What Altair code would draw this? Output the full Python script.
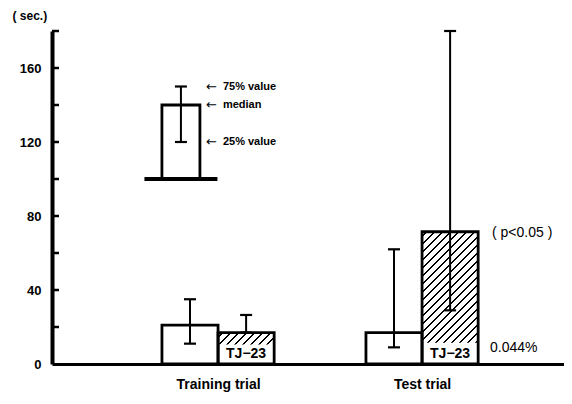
import altair as alt
import pandas as pd

# ---------------- data ----------------
groups = ["Training trial", "Test trial"]
group_pos = [1, 2]
series = ["Control", "TJ-23"]

control_median = [21, 17]
control_q75 = [35, 62]
control_q25 = [11, 9]

tj_median = [17, 71.5]
tj_q75 = [26.5, 180]
tj_q25 = [17, 29]

legend_median = 140
legend_q75 = 150
legend_q25 = 120
legend_base = 100
legend_labels = ["75% value", "median", "25% value"]

y_label_values = [0, 40, 80, 120, 160]
y_tick_values = [20, 40, 60, 80, 100, 120, 140, 160, 180]

tj_label = "TJ\u221223"
p_text = "( p<0.05 )"
pct_text = "0.044%"
y_unit = "( sec.)"
arrow = "\u2190"

# ---------------- layout / style constants ----------------
FONT = "Liberation Sans"
W_PLOT, H_PLOT = 512, 333
PX_X = 204.0
XMIN = 0.186
XMAX = XMIN + W_PLOT / PX_X
YMAX = 180
PX_Y = H_PLOT / YMAX
BAR_W = 0.275
CAP = 6 / PX_X
TICK_LEN = 7 / PX_X
LEGEND_X = 0.818
LEGEND_HALF = 19 / PX_X
LEGEND_BASE_HALF = 36.5 / PX_X
ARROW_DX = 25 / PX_X
ANNOT_DX = 42 / PX_X
LABEL_TOP = [10.5, 11.5]
TJ_TEXT_Y = 5.5
P_X, P_Y = 2.343, 70.8
PCT_X, PCT_Y = 2.333, 8.6

xs = alt.Scale(domain=[XMIN, XMAX], nice=False, zero=False)
ys = alt.Scale(domain=[0, YMAX], nice=False)

label_expr = "datum.value == {} ? '{}' : '{}'".format(group_pos[0], groups[0], groups[1])
x_axis = alt.Axis(values=group_pos, labelExpr=label_expr, tickSize=0, domainWidth=3,
                  domainColor="black", labelFont=FONT, labelFontSize=14,
                  labelFontWeight="bold", labelColor="black", labelPadding=13,
                  grid=False, title=None)
y_axis = alt.Axis(values=y_label_values, tickSize=0, domainWidth=4, domainColor="black",
                  labelFont=FONT, labelFontSize=13, labelFontWeight="bold",
                  labelColor="black", labelPadding=11, grid=False,
                  title=y_unit, titleAngle=0, titleX=-40, titleY=-16,
                  titleAlign="left", titleBaseline="middle", titleFont=FONT,
                  titleFontSize=12, titleFontWeight="bold", titleColor="black")


def X():
    return alt.X("x:Q", scale=xs, axis=x_axis)


def Y():
    return alt.Y("y:Q", scale=ys, axis=y_axis)


def hatch_fill(w_px, h_px, period=8.0, thick=1.8):
    L = w_px + h_px
    t = L / (w_px ** 2 + h_px ** 2)
    stops = [{"offset": 0, "color": "white"}]
    c = period / 2
    while c < L:
        a = c / L
        b = min((c + thick) / L, 1)
        stops += [{"offset": a, "color": "white"}, {"offset": a, "color": "black"},
                  {"offset": b, "color": "black"}, {"offset": b, "color": "white"}]
        c += period
    stops.append({"offset": 1, "color": "white"})
    return {"gradient": "linear", "x1": 0, "y1": 0, "x2": w_px * t, "y2": h_px * t,
            "stops": stops}


layers = []

# hatched parts of the TJ-23 bars
for i in range(len(groups)):
    d = pd.DataFrame({"x": [group_pos[i]], "x2": [group_pos[i] + BAR_W],
                      "y": [LABEL_TOP[i]], "y2": [tj_median[i]]})
    fill = hatch_fill(BAR_W * PX_X, (tj_median[i] - LABEL_TOP[i]) * PX_Y)
    layers.append(alt.Chart(d).mark_rect(fill=fill, strokeWidth=0).encode(
        x=X(), x2="x2:Q", y=Y(), y2="y2:Q"))

# bar outlines
rows = []
for i in range(len(groups)):
    rows.append({"x": group_pos[i] - BAR_W, "x2": group_pos[i], "y": 0, "y2": control_median[i]})
    rows.append({"x": group_pos[i], "x2": group_pos[i] + BAR_W, "y": 0, "y2": tj_median[i]})
rows.append({"x": LEGEND_X - LEGEND_HALF, "x2": LEGEND_X + LEGEND_HALF,
             "y": legend_base, "y2": legend_median})
bars = pd.DataFrame(rows)
layers.append(alt.Chart(bars).mark_rect(fillOpacity=0, stroke="black", strokeWidth=2.8).encode(
    x=X(), x2="x2:Q", y=Y(), y2="y2:Q"))

# legend baseline
base = pd.DataFrame({"x": [LEGEND_X - LEGEND_BASE_HALF], "x2": [LEGEND_X + LEGEND_BASE_HALF],
                     "y": [legend_base]})
layers.append(alt.Chart(base).mark_rule(color="black", strokeWidth=4).encode(
    x=X(), x2="x2:Q", y=Y()))

# error bars
err = []
for i in range(len(groups)):
    err.append({"cx": group_pos[i] - BAR_W / 2, "lo": control_q25[i], "hi": control_q75[i]})
    err.append({"cx": group_pos[i] + BAR_W / 2, "lo": tj_q25[i], "hi": tj_q75[i]})
err.append({"cx": LEGEND_X, "lo": legend_q25, "hi": legend_q75})
err = pd.DataFrame(err)
stems = pd.DataFrame({"x": err["cx"], "y": err["lo"], "y2": err["hi"]})
layers.append(alt.Chart(stems).mark_rule(color="black", strokeWidth=2).encode(
    x=X(), y=Y(), y2="y2:Q"))
caps = pd.DataFrame({"x": list(err["cx"] - CAP) * 2, "x2": list(err["cx"] + CAP) * 2,
                     "y": list(err["hi"]) + list(err["lo"])})
layers.append(alt.Chart(caps).mark_rule(color="black", strokeWidth=2.2).encode(
    x=X(), x2="x2:Q", y=Y()))

# inward y ticks
ticks = pd.DataFrame({"x": [XMIN] * len(y_tick_values),
                      "x2": [XMIN + TICK_LEN] * len(y_tick_values), "y": y_tick_values})
layers.append(alt.Chart(ticks).mark_rule(color="black", strokeWidth=2.5).encode(
    x=X(), x2="x2:Q", y=Y()))

# legend annotations: arrows and labels
ann_y = [legend_q75, legend_median, legend_q25]
arr = pd.DataFrame({"x": [LEGEND_X + ARROW_DX] * 3, "y": ann_y, "text": [arrow] * 3})
layers.append(alt.Chart(arr).mark_text(align="left", baseline="middle", font="DejaVu Sans",
                                       fontSize=13, color="black").encode(
    x=X(), y=Y(), text="text:N"))
ann = pd.DataFrame({"x": [LEGEND_X + ANNOT_DX] * 3, "y": ann_y, "text": legend_labels})
layers.append(alt.Chart(ann).mark_text(align="left", baseline="middle", font=FONT,
                                       fontSize=11, fontWeight="bold", color="black").encode(
    x=X(), y=Y(), text="text:N"))

# TJ-23 labels
tjl = pd.DataFrame({"x": [p + BAR_W / 2 for p in group_pos], "y": [TJ_TEXT_Y] * 2,
                    "text": [tj_label] * 2})
layers.append(alt.Chart(tjl).mark_text(align="center", baseline="middle", font=FONT,
                                       fontSize=14, fontWeight="bold", color="black").encode(
    x=X(), y=Y(), text="text:N"))

# statistics annotations
st = pd.DataFrame({"x": [P_X, PCT_X], "y": [P_Y, PCT_Y], "text": [p_text, pct_text]})
layers.append(alt.Chart(st).mark_text(align="left", baseline="middle", font=FONT,
                                      fontSize=14, color="black").encode(
    x=X(), y=Y(), text="text:N"))

chart = alt.layer(*layers).properties(
    width=W_PLOT, height=H_PLOT,
    autosize=alt.AutoSizeParams(type="none"),
    padding={"left": 44, "top": 23, "right": 0, "bottom": 32},
    background="white",
).configure_view(stroke=None)

chart.save("out.html", embed_options={"renderer": "svg", "actions": False})
